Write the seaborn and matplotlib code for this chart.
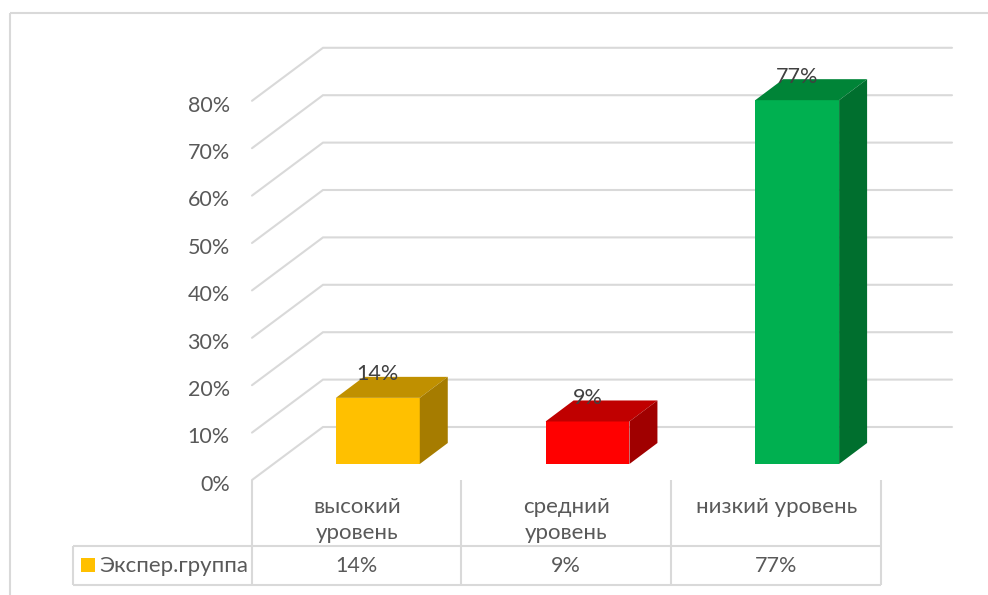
import matplotlib
matplotlib.use("Agg")
import matplotlib.pyplot as plt
from matplotlib.lines import Line2D
from matplotlib.patches import Polygon, Rectangle
from matplotlib.ticker import PercentFormatter
from matplotlib.transforms import ScaledTranslation
import pandas as pd
import seaborn as sns

categories = ["высокий\nуровень", "средний\nуровень", "низкий уровень"]
values = [0.14, 0.09, 0.77]
series_name = "Экспер.группа"
y_ticks = [0.0, 0.1, 0.2, 0.3, 0.4, 0.5, 0.6, 0.7, 0.8]
front_colors = ["#FFC000", "#FF0000", "#00B050"]
top_colors = ["#C09000", "#C00000", "#008437"]
side_colors = ["#A67C00", "#A00000", "#006F2E"]

W, H = 988, 595
GRID = "#D9D9D9"
TEXT = "#595959"
FS = 16
FS_TICK = 15.5

sns.set_theme(style="white")
plt.rcParams["font.family"] = ["Lato", "DejaVu Sans"]

fig = plt.figure(figsize=(W / 100, H / 100), dpi=100, facecolor="white")


def axes_px(left, right, top, bottom):
    return fig.add_axes([left / W, 1 - bottom / H, (right - left) / W, (bottom - top) / H])


def line_px(xs, ys, lw=1.5, color=GRID):
    fig.add_artist(Line2D([x / W for x in xs], [1 - y / H for y in ys],
                          color=color, lw=lw, solid_capstyle="butt"))


CAT_PX = 209.67
VAL_PX = 474.0
BAR_PX = 472.5
ax_wall = axes_px(252, 881, 480 - 0.8 * VAL_PX, 480)
ax_wall.set_xlim(-0.5, 2.5)
ax_wall.set_ylim(0, 0.8)
ax_wall.patch.set_visible(False)
sns.despine(ax=ax_wall, left=True, bottom=True, top=True, right=True)
ax_wall.set_yticks(y_ticks)
ax_wall.yaxis.set_major_formatter(PercentFormatter(1.0, decimals=0))
ax_wall.set_xticks(range(len(categories)))
ax_wall.set_xticklabels(categories, linespacing=1.42, va="top")
ax_wall.tick_params(axis="y", length=0, pad=16, labelsize=FS_TICK, labelcolor=TEXT)
ax_wall.tick_params(axis="x", length=0, pad=12, labelsize=FS, labelcolor=TEXT)
shift = ScaledTranslation(0, -2 / 72, fig.dpi_scale_trans)
for lab in ax_wall.get_yticklabels():
    lab.set_transform(lab.get_transform() + shift)

back_dx = 71 / CAT_PX
back_dy = 53 / VAL_PX
right_x = -0.5 + (952 - 252) / CAT_PX
for t in y_ticks:
    ax_wall.plot([-0.5, -0.5 + back_dx, right_x], [t, t + back_dy, t + back_dy],
                 color=GRID, lw=1.5, clip_on=False, zorder=1, solid_joinstyle="miter")

ax_bar = axes_px(273, 902, 464 - 0.8 * BAR_PX, 464)
ax_bar.patch.set_visible(False)
df = pd.DataFrame({"cat": categories, "val": values})
sns.barplot(data=df, x="cat", y="val", hue="cat", palette=front_colors, saturation=1,
            width=0.4, dodge=False, legend=False, ax=ax_bar, zorder=3, linewidth=0)
ax_bar.set_xlim(-0.5, 2.5)
ax_bar.set_ylim(0, 0.8)
ax_bar.axis("off")

dx = 28 / CAT_PX
dy = 21 / BAR_PX
for bar, v, top_c, side_c in zip(ax_bar.patches, values, top_colors, side_colors):
    x0, w = bar.get_x(), bar.get_width()
    x1 = x0 + w
    ax_bar.add_patch(Polygon([(x0, v), (x1, v), (x1 + dx, v + dy), (x0 + dx, v + dy)],
                             facecolor=top_c, edgecolor="none", clip_on=False, zorder=3))
    ax_bar.add_patch(Polygon([(x1, 0), (x1 + dx, dy), (x1 + dx, v + dy), (x1, v)],
                             facecolor=side_c, edgecolor="none", clip_on=False, zorder=3))
    ax_bar.annotate(f"{v:.0%}", (x0 + w / 2, v), xytext=(0, 17), textcoords="offset points",
                    ha="center", va="center", fontsize=FS_TICK, color="#404040",
                    annotation_clip=False, zorder=5)

# chart frame
line_px([10, 988], [12.5, 12.5])
line_px([10, 10], [12.5, 595])

# data table
col_x = [252, 461, 671, 881]
for x in col_x:
    line_px([x, x], [480, 585])
line_px([73, 73], [546, 585])
line_px([73, 881], [546, 546])
line_px([73, 881], [585, 585])
fig.text(99 / W, 1 - 565.5 / H, series_name, ha="left", va="center", fontsize=FS, color=TEXT)
fig.add_artist(Rectangle((81 / W, 1 - 572 / H), 14 / W, 14 / H, transform=fig.transFigure,
                         facecolor=front_colors[0], edgecolor="none"))
for i, v in enumerate(values):
    fig.text((col_x[i] + col_x[i + 1]) / 2 / W, 1 - 565.5 / H, f"{v:.0%}",
             ha="center", va="center", fontsize=FS_TICK, color=TEXT)

fig.savefig("out.png", dpi=100, facecolor="white")
